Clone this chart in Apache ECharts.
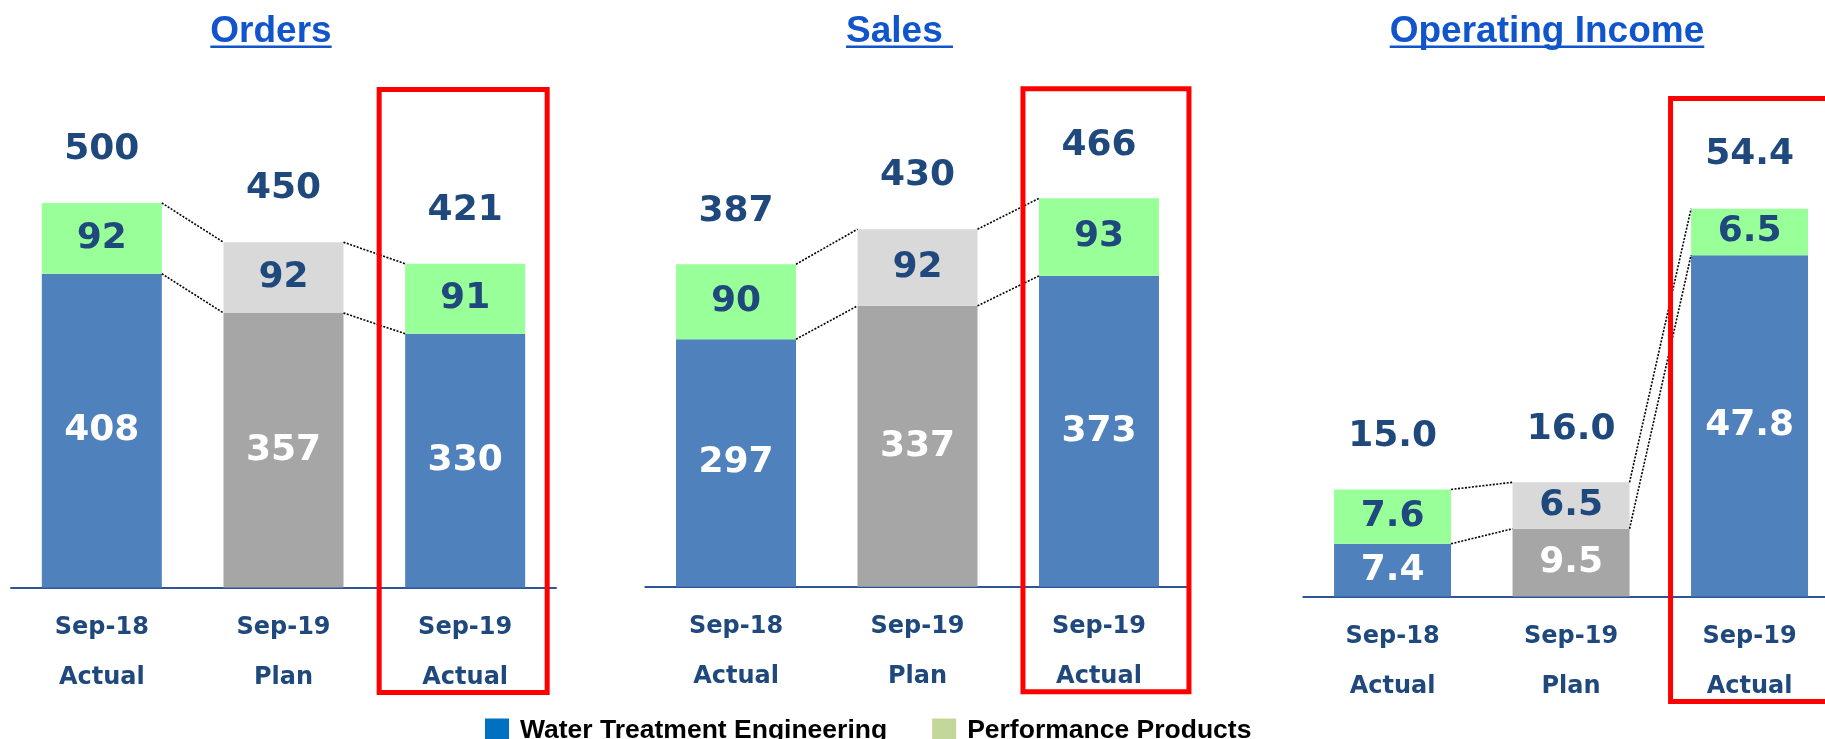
<!DOCTYPE html>
<html>
<head>
<meta charset="utf-8">
<script src="https://cdn.jsdelivr.net/npm/echarts@6/dist/echarts.min.js"></script>
<style>
  html, body { margin: 0; padding: 0; background: #fff; }
  #chart { width: 1825px; height: 739px; }
</style>
</head>
<body>
<div id="chart"></div>
<script>
// values
const categories = ["Sep-18\nActual", "Sep-19\nPlan", "Sep-19\nActual"];
const ordersWte = [408, 357, 330];
const ordersPp = [92, 92, 91];
const ordersTotal = [500, 450, 421];
const salesWte = [297, 337, 373];
const salesPp = [90, 92, 93];
const salesTotal = [387, 430, 466];
const incomeWte = [7.4, 9.5, 47.8];
const incomePp = [7.6, 6.5, 6.5];
const incomeTotal = [15.0, 16.0, 54.4];

const wteColors = ["#4f81bd", "#a6a6a6", "#4f81bd"];
const ppColors = ["#99ff99", "#d9d9d9", "#99ff99"];
const navy = "#1f497d";
const numFont = "DejaVu Sans";

const panels = [
  { title: "Orders", wte: ordersWte, pp: ordersPp, total: ordersTotal, digits: 0,
    grid: { left: 11, top: 87.6, width: 545, height: 500 }, yMax: 650, barWidth: 120,
    boxL: 86, boxR: 82, titleX: 271 },
  { title: "Sales ", wte: salesWte, pp: salesPp, total: salesTotal, digits: 0,
    grid: { left: 645.3, top: 86.7, width: 544.4, height: 500 }, yMax: 600, barWidth: 120,
    boxL: 76, boxR: 90, titleX: 899.5 },
  { title: "Operating Income", wte: incomeWte, pp: incomePp, total: incomeTotal, digits: 1,
    grid: { left: 1303.3, top: 96.6, width: 535.5, height: 500 }, yMax: 70, barWidth: 117,
    boxL: 79, boxR: 200, titleX: 1547 }
];

const myChart = echarts.init(document.getElementById("chart"));

const ctx = document.createElement("canvas").getContext("2d");
ctx.font = 'bold 37px "Liberation Sans"';

const grids = [], xAxes = [], yAxes = [], series = [], graphics = [];

panels.forEach((p, i) => {
  grids.push(Object.assign({ outerBoundsMode: "none", containLabel: false }, p.grid));
  xAxes.push({
    type: "category",
    gridIndex: i,
    data: categories,
    axisLine: { show: true, lineStyle: { color: "#2f5597", width: 2 } },
    axisTick: { show: false },
    splitLine: { show: false },
    axisLabel: {
      interval: 0,
      margin: 15,
      color: navy,
      fontFamily: numFont,
      fontWeight: "bold",
      fontSize: 24,
      lineHeight: 50
    }
  });
  yAxes.push({ type: "value", gridIndex: i, min: 0, max: p.yMax, show: false, splitLine: { show: false } });

  const fmt = prm => Number(prm.value).toFixed(p.digits);
  const numLabel = color => ({
    show: true, position: "inside", color: color,
    fontFamily: numFont, fontWeight: "bold", fontSize: 36, formatter: fmt
  });

  series.push({
    name: "Water Treatment Engineering",
    type: "bar",
    stack: "s" + i,
    xAxisIndex: i,
    yAxisIndex: i,
    barWidth: p.barWidth,
    itemStyle: { color: "#4f81bd" },
    data: p.wte.map((v, k) => ({ value: v, itemStyle: { color: wteColors[k] } })),
    label: numLabel("#fff"),
    silent: true
  });
  series.push({
    name: "Performance Products",
    type: "bar",
    stack: "s" + i,
    xAxisIndex: i,
    yAxisIndex: i,
    barWidth: p.barWidth,
    itemStyle: { color: "#99ff99" },
    data: p.pp.map((v, k) => ({ value: v, itemStyle: { color: ppColors[k] } })),
    label: numLabel(navy),
    silent: true
  });
  // totals above the stacks
  series.push({
    type: "scatter",
    xAxisIndex: i,
    yAxisIndex: i,
    data: p.total,
    symbolSize: 1,
    itemStyle: { color: "rgba(0,0,0,0)", opacity: 1 },
    label: Object.assign(numLabel(navy), { offset: [0, -53] }),
    silent: true
  });
  // dotted connectors between neighbouring bars
  series.push({
    type: "custom",
    xAxisIndex: i,
    yAxisIndex: i,
    data: [[0, 0], [1, 0]],
    clip: false,
    silent: true,
    z: 3,
    renderItem: (params, api) => {
      const k = params.dataIndex;
      const half = p.barWidth / 2;
      const a1 = api.coord([k, p.wte[k] + p.pp[k]]);
      const b1 = api.coord([k + 1, p.wte[k + 1] + p.pp[k + 1]]);
      const a2 = api.coord([k, p.wte[k]]);
      const b2 = api.coord([k + 1, p.wte[k + 1]]);
      const style = { stroke: "#000", lineWidth: 1.6, lineDash: [2, 1.5], fill: null };
      return {
        type: "group",
        children: [
          { type: "line", shape: { x1: a1[0] + half, y1: a1[1], x2: b1[0] - half, y2: b1[1] }, style: style },
          { type: "line", shape: { x1: a2[0] + half, y1: a2[1], x2: b2[0] - half, y2: b2[1] }, style: style }
        ]
      };
    }
  });
  // red highlight frame round the latest actual
  series.push({
    type: "custom",
    xAxisIndex: i,
    yAxisIndex: i,
    data: [[2, 0]],
    clip: false,
    silent: true,
    z: 5,
    renderItem: (params, api) => {
      const c = api.coord([2, 0]);
      return {
        type: "rect",
        shape: { x: c[0] - p.boxL, y: c[1] - 498, width: p.boxL + p.boxR, height: 603 },
        style: { fill: null, stroke: "#ff0000", lineWidth: 5 }
      };
    }
  });

  const w = ctx.measureText(p.title).width;
  graphics.push({
    type: "text",
    x: p.titleX,
    y: 32,
    style: {
      text: p.title,
      fill: "#1155cc",
      fontFamily: "Liberation Sans",
      fontWeight: "bold",
      fontSize: 37,
      align: "center",
      verticalAlign: "middle"
    }
  });
  graphics.push({
    type: "rect",
    shape: { x: p.titleX - w / 2, y: 45.5, width: w, height: 2.5 },
    style: { fill: "#1155cc" }
  });
});

myChart.setOption({
  animation: false,
  grid: grids,
  xAxis: xAxes,
  yAxis: yAxes,
  graphic: graphics,
  legend: {
    left: 480,
    top: 712,
    icon: "rect",
    itemWidth: 24,
    itemHeight: 24,
    itemGap: 45,
    selectedMode: false,
    textStyle: {
      fontFamily: "Liberation Sans",
      fontWeight: "bold",
      fontSize: 26.5,
      color: "#000",
      padding: [0, 0, 0, 6]
    },
    data: [
      { name: "Water Treatment Engineering", itemStyle: { color: "#0070c0" } },
      { name: "Performance Products", itemStyle: { color: "#c4d79b" } }
    ]
  },
  series: series
});

window.addEventListener("resize", () => {
  myChart.resize();
});
</script>
</body>
</html>
